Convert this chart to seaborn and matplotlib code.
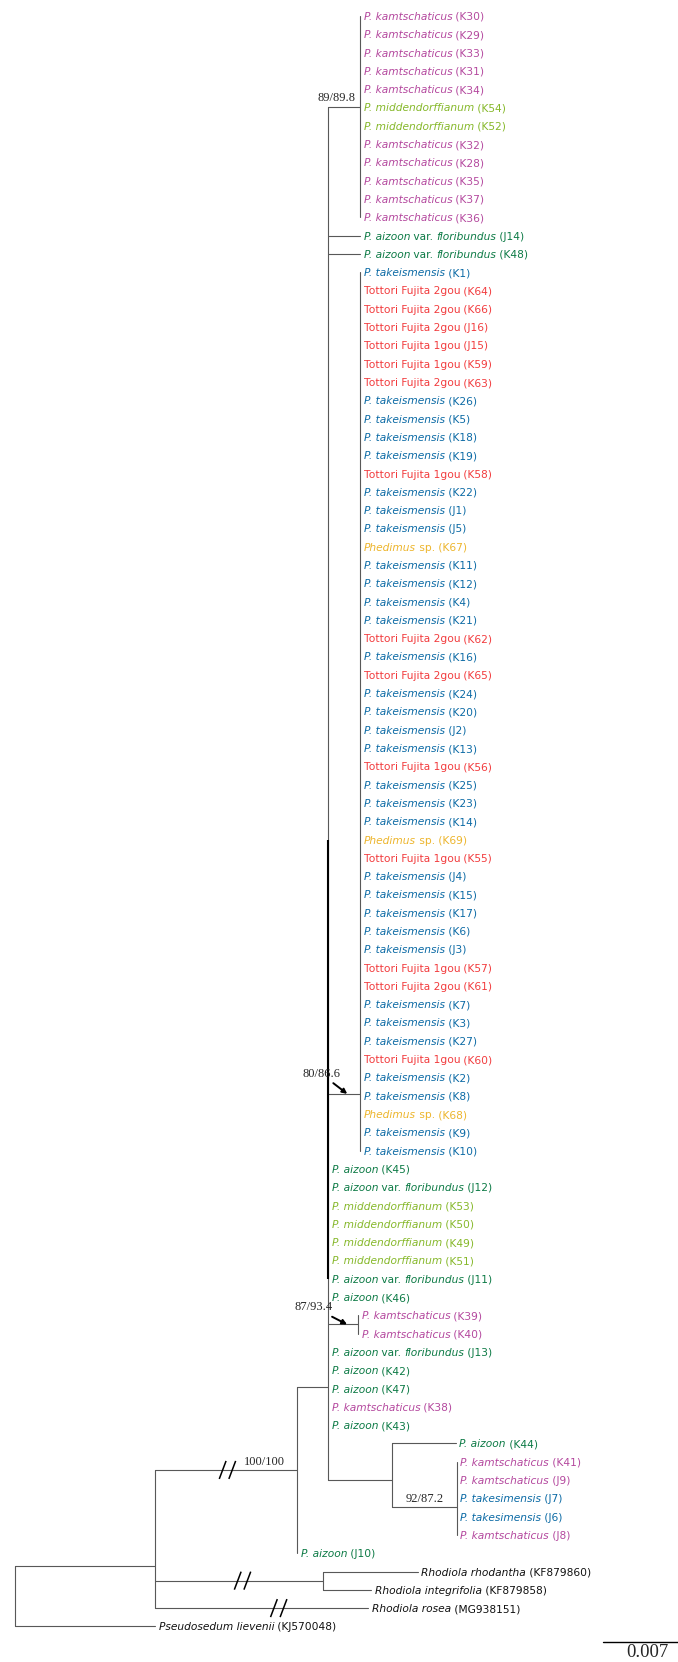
import numpy as np
import pandas as pd
import matplotlib
matplotlib.use("Agg")
import matplotlib.pyplot as plt
import matplotlib.transforms as mtransforms
import seaborn as sns

# ---- tree data ----
leaf_codes = [
    "K30", "K29", "K33", "K31", "K34", "K54", "K52", "K32", "K28", "K35", "K37", "K36",
    "J14", "K48",
    "K1", "K64", "K66", "J16", "J15", "K59", "K63", "K26", "K5", "K18", "K19", "K58",
    "K22", "J1", "J5", "K67", "K11", "K12", "K4", "K21", "K62", "K16", "K65", "K24",
    "K20", "J2", "K13", "K56", "K25", "K23", "K14", "K69", "K55", "J4", "K15", "K17",
    "K6", "J3", "K57", "K61", "K7", "K3", "K27", "K60", "K2", "K8", "K68", "K9", "K10",
    "K45", "J12", "K53", "K50", "K49", "K51", "J11", "K46", "K39", "K40", "J13", "K42",
    "K47", "K38", "K43",
    "K44", "K41", "J9", "J7", "J6", "J8", "J10",
    "KF879860", "KF879858", "MG938151", "KJ570048",
]
leaf_taxa = [
    "kam", "kam", "kam", "kam", "kam", "mid", "mid", "kam", "kam", "kam", "kam", "kam",
    "flo", "flo",
    "tak", "t2", "t2", "t2", "t1", "t1", "t2", "tak", "tak", "tak", "tak", "t1",
    "tak", "tak", "tak", "phe", "tak", "tak", "tak", "tak", "t2", "tak", "t2", "tak",
    "tak", "tak", "tak", "t1", "tak", "tak", "tak", "phe", "t1", "tak", "tak", "tak",
    "tak", "tak", "t1", "t2", "tak", "tak", "tak", "t1", "tak", "tak", "phe", "tak", "tak",
    "aiz", "flo", "mid", "mid", "mid", "mid", "flo", "aiz", "kam", "kam", "flo", "aiz",
    "aiz", "kam", "aiz",
    "aiz", "kam", "kam", "tks", "tks", "kam", "aiz",
    "rrh", "rin", "rro", "pli",
]
leaf_parent = (["KAM"] * 12 + ["C"] * 2 + ["TAK"] * 49 + ["C"] * 8 + ["F"] * 2
               + ["C"] * 5 + ["D"] + ["E"] * 5 + ["B"] + ["R", "R", "A", "root"])
leaf_length = ([0.0] * 12 + [0.003, 0.003] + [0.0] * 49 + [0.0] * 15
               + [0.0059] + [0.0] * 5 + [0.0] + [0.0088, 0.0045, 0.0199, 0.0131])

node_ids = ["root", "A", "B", "R", "C", "KAM", "TAK", "F", "D", "E"]
node_parent = [None, "root", "A", "A", "B", "C", "C", "C", "C", "D"]
node_length = [0.0, 0.0131, 0.01325, 0.0157, 0.0029, 0.003, 0.003, 0.0028, 0.006, 0.006]
node_row = [None, 85.7, 80.45, 86.5, 75.9, 6.0, 59.9, 72.5, 81.0, 82.5]

# branches drawn shortened, with // marks (fraction along the branch)
broken_ids = ["B", "R", "MG938151"]
broken_frac = [0.51, 0.52, 0.58]

support_ids = ["KAM", "TAK", "F", "B", "E"]
support_text = ["89/89.8", "80/86.6", "87/93.4", "100/100", "92/87.2"]

scale_len = 0.007
thick_rows = (46.0, 70.0)  # heavier stretch of the main polytomy line

taxon_pieces = {
    "kam": [("P. kamtschaticus", True)],
    "mid": [("P. middendorffianum", True)],
    "flo": [("P. aizoon", True), (" var. ", False), ("floribundus", True)],
    "aiz": [("P. aizoon", True)],
    "tak": [("P. takeismensis", True)],
    "tks": [("P. takesimensis", True)],
    "t1": [("Tottori Fujita 1gou", False)],
    "t2": [("Tottori Fujita 2gou", False)],
    "phe": [("Phedimus", True), (" sp.", False)],
    "rrh": [("Rhodiola rhodantha", True)],
    "rin": [("Rhodiola integrifolia", True)],
    "rro": [("Rhodiola rosea", True)],
    "pli": [("Pseudosedum lievenii", True)],
}
taxon_colors = {
    "kam": "#B4489E", "mid": "#86B82A", "flo": "#0C7A45", "aiz": "#0C7A45",
    "tak": "#0B6AA5", "tks": "#0B6AA5", "t1": "#F23B3D", "t2": "#F23B3D",
    "phe": "#EDB52C", "rrh": "#111111", "rin": "#111111", "rro": "#111111",
    "pli": "#111111",
}

# ---- layout ----
W, H, DPI = 678, 1662, 100
PX = 75 / scale_len          # pixels per substitution unit
ROW_PX, ROW0 = 18.3, 16.0    # pixel spacing of tips, first tip position
ROOT_PX = 14.7

parent = dict(zip(node_ids, node_parent))
length = dict(zip(node_ids, node_length))
row = dict(zip(node_ids, node_row))
for i, code in enumerate(leaf_codes):
    parent[code] = leaf_parent[i]
    length[code] = leaf_length[i]
    row[code] = i + 1

children = {n: [] for n in node_ids}
for k, p in parent.items():
    if p is not None:
        children[p].append(k)

xpos = {}
def get_x(n):
    if n not in xpos:
        xpos[n] = 0.0 if parent[n] is None else get_x(parent[n]) + length[n]
    return xpos[n]
for k in parent:
    get_x(k)

segs = []
sid = 0
for k in parent:
    if parent[k] is not None and length[k] > 0:
        segs += [(sid, xpos[parent[k]], row[k]), (sid, xpos[k], row[k])]
        sid += 1
for n in node_ids:
    ys = [row[c] for c in children[n]]
    if row[n] is not None:
        ys.append(row[n])
    segs += [(sid, xpos[n], min(ys)), (sid, xpos[n], max(ys))]
    sid += 1
seg_df = pd.DataFrame(segs, columns=["seg", "x", "y"])

sns.set_theme(style="white")
plt.rcParams["font.family"] = ["DejaVu Sans"]

fig = plt.figure(figsize=(W / DPI, H / DPI), dpi=DPI)
ax = fig.add_axes([0, 0, 1, 1])
ax.set_xlim(-ROOT_PX / PX, (W - ROOT_PX) / PX)
ax.set_ylim(1 + (H - ROW0) / ROW_PX, 1 - ROW0 / ROW_PX)
ax.set_axis_off()

sns.lineplot(data=seg_df, x="x", y="y", units="seg", estimator=None, sort=False,
             color="#585858", linewidth=0.8, legend=False, ax=ax)

# heavier part of the big polytomy line
ax.plot([xpos["C"], xpos["C"]], list(thick_rows), color="black", lw=1.5,
        solid_capstyle="butt")

# // break marks
for bid, fr in zip(broken_ids, broken_frac):
    xc = xpos[parent[bid]] + fr * length[bid]
    for off in (-4.8, 4.8):
        ax.plot([xc + (off - 3.4) / PX, xc + (off + 3.4) / PX],
                [row[bid] + 9 / ROW_PX, row[bid] - 9 / ROW_PX],
                color="black", lw=1.1, solid_capstyle="butt")

# tip labels
renderer = fig.canvas.get_renderer()
for code, tx in zip(leaf_codes, leaf_taxa):
    pieces = taxon_pieces[tx] + [(" (%s)" % code, False)]
    off = 3.5
    for txt, it in pieces:
        tr = mtransforms.offset_copy(ax.transData, fig=fig, x=off, y=0, units="dots")
        t = ax.text(xpos[code], row[code], txt, transform=tr, ha="left",
                    va="center_baseline", fontsize=7.7, color=taxon_colors[tx],
                    fontstyle="italic" if it else "normal")
        off += t.get_window_extent(renderer).width

# support values
sup_off = {"KAM": (-5, 9), "TAK": (-7, 20), "F": (-14, 17), "B": (-12, 8), "E": (-13, 8)}
arrow_target = {"TAK": 13, "F": 11}
for nid, lab in zip(support_ids, support_text):
    nx, ny = xpos[nid], row[nid]
    dx, dy = sup_off[nid]
    if nid in arrow_target:
        tx = nx - arrow_target[nid] / PX
        ax.annotate(lab, xy=(tx, ny), xytext=(dx, dy), textcoords="offset pixels",
                    ha="right", va="center", fontsize=9, family="Liberation Serif",
                    arrowprops=dict(arrowstyle="-|>", color="black", lw=1.4,
                                    shrinkA=0, shrinkB=0, mutation_scale=7))
    else:
        ax.annotate(lab, xy=(nx, ny), xytext=(dx, dy), textcoords="offset pixels",
                    ha="right", va="center", fontsize=9, family="Liberation Serif")

# scale bar
x_right = (W - ROOT_PX) / PX
bar_row = 1 + (1642 - ROW0) / ROW_PX
ax.plot([x_right - scale_len, x_right], [bar_row, bar_row], color="black", lw=1.0)
ax.text(x_right - scale_len / 2 + 7 / PX, bar_row + 0.6, "%.3f" % scale_len,
        ha="center", va="center", fontsize=13.5, family="Liberation Serif")

fig.savefig("out.png", dpi=DPI, facecolor="white")
